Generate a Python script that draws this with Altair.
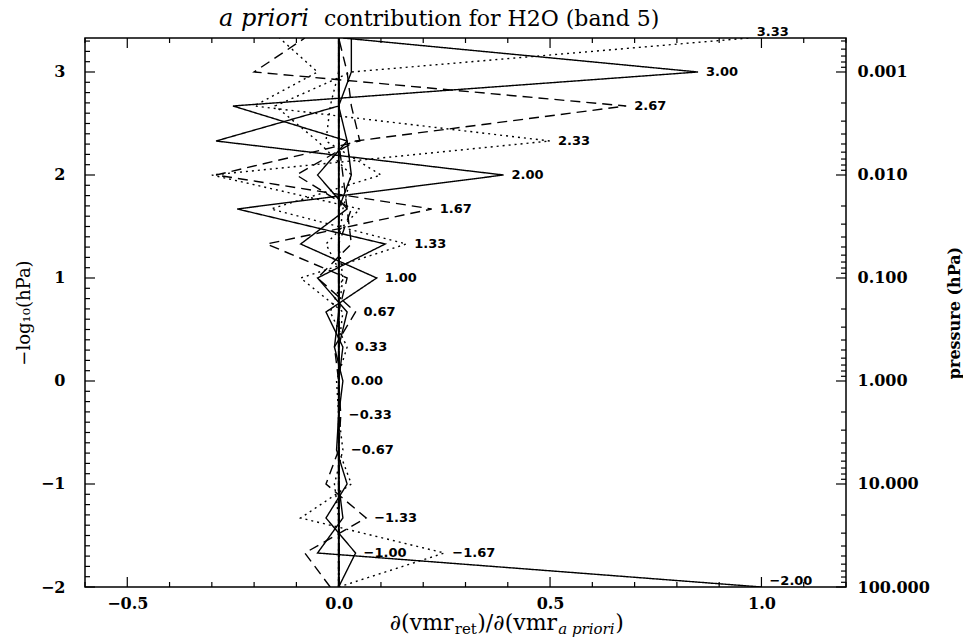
import altair as alt
import pandas as pd
import math

# ---------------- data ----------------
levels = [3.33, 3.00, 2.67, 2.33, 2.00, 1.67, 1.33, 1.00, 0.67, 0.33,
          0.00, -0.33, -0.67, -1.00, -1.33, -1.67, -2.00]

# one kernel row per retrieval level (values listed at the levels above, top to bottom)
k_p333 = [0.97, 0.03, -0.15, -0.05, 0.03, 0.01, 0.0, 0.0, 0.0, 0.0, 0.0, 0.0, 0.0, 0.0, 0.0, 0.0, 0.0]
k_p300 = [0.01, 0.85, -0.25, 0.02, 0.03, 0.0, 0.0, 0.0, 0.0, 0.0, 0.0, 0.0, 0.0, 0.0, 0.0, 0.0, 0.0]
k_p267 = [-0.08, -0.20, 0.68, 0.04, -0.10, 0.03, 0.0, 0.0, 0.0, 0.0, 0.0, 0.0, 0.0, 0.0, 0.0, 0.0, 0.0]
k_p233 = [-0.14, -0.05, -0.20, 0.50, -0.30, 0.05, -0.03, 0.01, 0.0, 0.0, 0.0, 0.0, 0.0, 0.0, 0.0, 0.0, 0.0]
k_p200 = [0.03, 0.03, 0.0, -0.29, 0.39, -0.24, 0.11, -0.05, 0.02, 0.0, 0.0, 0.0, 0.0, 0.0, 0.0, 0.0, 0.0]
k_p167 = [0.0, 0.02, 0.03, 0.05, -0.29, 0.22, -0.17, 0.02, 0.0, 0.0, 0.0, 0.0, 0.0, 0.0, 0.0, 0.0, 0.0]
k_p133 = [0.0, 0.0, -0.02, -0.03, 0.10, -0.16, 0.16, -0.09, 0.01, 0.0, 0.0, 0.0, 0.0, 0.0, 0.0, 0.0, 0.0]
k_p100 = [0.0, 0.0, 0.0, 0.02, -0.05, 0.02, -0.09, 0.09, -0.03, 0.01, 0.0, 0.0, 0.0, 0.0, 0.0, 0.0, 0.0]
k_p067 = [0.0, 0.0, 0.0, 0.0, 0.01, 0.02, 0.03, -0.05, 0.04, -0.01, 0.0, 0.0, 0.0, 0.0, 0.0, 0.0, 0.0]
k_p033 = [0.0, 0.0, 0.0, 0.0, 0.0, 0.0, 0.0, 0.01, -0.02, 0.02, -0.005, 0.0, 0.0, 0.0, 0.0, 0.0, 0.0]
k_p000 = [0.0, 0.0, 0.0, 0.0, 0.0, 0.0, 0.0, 0.0, 0.0, -0.01, 0.01, 0.0, 0.0, 0.0, 0.0, 0.0, 0.0]
k_m033 = [0.0, 0.0, 0.0, 0.0, 0.0, 0.0, 0.0, 0.0, 0.0, 0.0, 0.0, 0.005, 0.0, 0.0, 0.0, 0.0, 0.0]
k_m067 = [0.0, 0.0, 0.0, 0.0, 0.0, 0.0, 0.0, 0.0, 0.0, 0.0, 0.0, 0.0, 0.01, -0.01, 0.0, 0.0, 0.0]
k_m100 = [0.0, 0.0, 0.0, 0.0, 0.0, 0.0, 0.0, 0.0, 0.0, 0.0, 0.0, 0.0, -0.005, 0.02, -0.03, 0.04, 0.0]
k_m133 = [0.0, 0.0, 0.0, 0.0, 0.0, 0.0, 0.0, 0.0, 0.0, 0.0, 0.0, 0.0, 0.0, -0.03, 0.065, -0.08, -0.02]
k_m167 = [0.0, 0.0, 0.0, 0.0, 0.0, 0.0, 0.0, 0.0, 0.0, 0.0, 0.0, 0.0, 0.0, 0.03, -0.09, 0.25, 0.0]
k_m200 = [0.0, 0.0, 0.0, 0.0, 0.0, 0.0, 0.0, 0.0, 0.0, 0.0, 0.0, 0.0, 0.0, 0.0, 0.01, -0.05, 1.0]

rows = [k_p333, k_p300, k_p267, k_p233, k_p200, k_p167, k_p133, k_p100, k_p067,
        k_p033, k_p000, k_m033, k_m067, k_m100, k_m133, k_m167, k_m200]
row_styles = ["dotted", "solid", "dashed"]  # cycle, starting at the top level

x_major = [-0.5, 0.0, 0.5, 1.0]
y_major = [-2, -1, 0, 1, 2, 3]
title_italic = "a priori"
title_rest = "contribution for H2O (band 5)"
# x-axis title pieces: (text, is_subscript, italic)
x_title_parts = [("∂(vmr", False, False), ("ret", True, False), (")/∂(vmr", False, False),
                 ("a priori", True, True), (")", False, False)]
y_title = "−log₁₀(hPa)"
y2_title = "pressure (hPa)"

# ---------------- tables ----------------
def lab(v):
    s = f"{abs(v):.2f}"
    return ("−" + s) if v < 0 else s

recs, labs = [], []
for i, (lv, vals) in enumerate(zip(levels, rows)):
    st = row_styles[i % 3]
    for l2, v in zip(levels, vals):
        recs.append({"row": lab(lv), "style": st, "level": l2, "value": v})
    j = max(range(len(vals)), key=lambda k: vals[k])
    labs.append({"x": vals[j], "y": levels[j], "text": lab(lv),
                 "edge": levels[j] in (levels[0], levels[-1])})
df = pd.DataFrame(recs)
df_lab = pd.DataFrame(labs)

x_minor = [round(-0.6 + 0.1 * k, 2) for k in range(19)]
x_minor = [v for v in x_minor if v not in x_major]
y_minor = [round(-2 + 0.1 * k, 2) for k in range(54)]
y_minor = [v for v in y_minor if abs(v - round(v)) > 1e-6]
p_minor = []
for n in range(-4, 3):
    for k in range(2, 10):
        yy = -math.log10(k * 10 ** n)
        if -2 < yy < 3.33:
            p_minor.append(yy)

W, H = 761, 549
xs = alt.Scale(domain=[-0.6, 1.2], nice=False, zero=False)
ys = alt.Scale(domain=[-2, 3.33], nice=False, zero=False)
FS = "DejaVu Serif"

lines = alt.Chart(df).mark_line(color="black", strokeWidth=1.4, clip=True).encode(
    x=alt.X("value:Q", scale=xs,
            axis=alt.Axis(values=x_major, format=".1f", title=None, tickSize=0,
                          labelPadding=8, domain=False, grid=False)),
    y=alt.Y("level:Q", scale=ys,
            axis=alt.Axis(values=y_major, format="d", title=None, orient="left",
                          tickSize=0, labelPadding=20, domain=False, grid=False)),
    detail="row:N",
    order=alt.Order("level:Q"),
    strokeDash=alt.StrokeDash("style:N",
                              scale=alt.Scale(domain=["solid", "dashed", "dotted"],
                                              range=[[1, 0], [10, 6], [2, 4]]),
                              legend=None),
)

lab_kw = dict(align="left", dx=8, font="DejaVu Sans", fontWeight="bold",
              fontSize=13, color="black")
labels_mid = alt.Chart(df_lab[~df_lab["edge"]]).mark_text(baseline="middle", **lab_kw).encode(
    x=alt.X("x:Q", scale=xs, axis=None),
    y=alt.Y("y:Q", scale=ys, axis=None),
    text="text:N",
)
labels_edge = alt.Chart(df_lab[df_lab["edge"]]).mark_text(baseline="alphabetic", dy=-2,
                                                          **lab_kw).encode(
    x=alt.X("x:Q", scale=xs, axis=None),
    y=alt.Y("y:Q", scale=ys, axis=None),
    text="text:N",
)

def xticks(vals, y0, y1):
    return alt.Chart(pd.DataFrame({"v": vals})).mark_rule(color="black", strokeWidth=1.2).encode(
        x=alt.X("v:Q", scale=xs, axis=None), y=alt.value(y0), y2=alt.value(y1))

def yticks(vals, x0, x1, axis=None):
    return alt.Chart(pd.DataFrame({"v": vals})).mark_rule(color="black", strokeWidth=1.2).encode(
        y=alt.Y("v:Q", scale=ys, axis=axis), x=alt.value(x0), x2=alt.value(x1))

right_axis = alt.Axis(orient="right", values=y_major,
                      labelExpr="format(pow(10, -datum.value), '.3f')",
                      title=None, tickSize=0, labelPadding=11, domain=False, grid=False)

ticks = [
    xticks(x_major, H, H - 10), xticks(x_minor, H, H - 5),
    xticks(x_major, 0, 10), xticks(x_minor, 0, 5),
    yticks(y_major, 0, 10), yticks(y_minor, 0, 5),
    yticks(y_major, W, W - 10, right_axis), yticks(p_minor, W, W - 5),
]

def txt(s, x, y, **kw):
    return alt.Chart(pd.DataFrame({"t": [s]})).mark_text(color="black", **kw).encode(
        text="t:N", x=alt.value(x), y=alt.value(y))

# approximate DejaVu Serif advance widths (em) for laying out the x title pieces
CW = {"∂": 0.53, "(": 0.39, ")": 0.39, "/": 0.34, "v": 0.58, "m": 0.95, "r": 0.48,
      "e": 0.59, "t": 0.40, "a": 0.60, " ": 0.32, "p": 0.64, "i": 0.32, "o": 0.60}
BIG, SUB = 22, 15
widths = [sum(CW.get(c, 0.6) for c in s) * (SUB if sub else BIG) + 0.5
          for s, sub, _ in x_title_parts]
x_pos = 422 - sum(widths) / 2
xt_layers = []
for (s, sub, it), w in zip(x_title_parts, widths):
    kw = dict(align="left", baseline="alphabetic", font=FS,
              fontSize=SUB if sub else BIG)
    if it:
        kw["fontStyle"] = "italic"
    xt_layers.append(txt(s, x_pos, 592 + (4 if sub else 0), **kw))
    x_pos += w

titles = [
    txt(title_italic, 224, -12, align="right", baseline="alphabetic", font=FS,
        fontStyle="italic", fontSize=24),
    txt(title_rest, 239, -12, align="left", baseline="alphabetic", font=FS, fontSize=22),
    txt(y_title, -60, 275, align="center", baseline="middle", angle=270, font=FS, fontSize=18),
    txt(y2_title, 870, 275, align="center", baseline="middle", angle=270, font=FS, fontSize=16,
        fontWeight="bold"),
] + xt_layers

chart = alt.layer(lines, labels_mid, labels_edge, *ticks, *titles).resolve_axis(
    x="independent", y="independent"
).properties(
    width=W, height=H,
    autosize=alt.AutoSizeParams(type="none"),
    padding={"left": 85, "top": 38, "right": 963 - 85 - W, "bottom": 642 - 38 - H},
    background="white",
).configure_view(stroke="black", strokeWidth=1.5).configure_axis(
    labelFont=FS, labelFontSize=16, labelFontWeight="bold", labelColor="black"
)

chart.save("out.html", embed_options={"renderer": "svg", "actions": False})
